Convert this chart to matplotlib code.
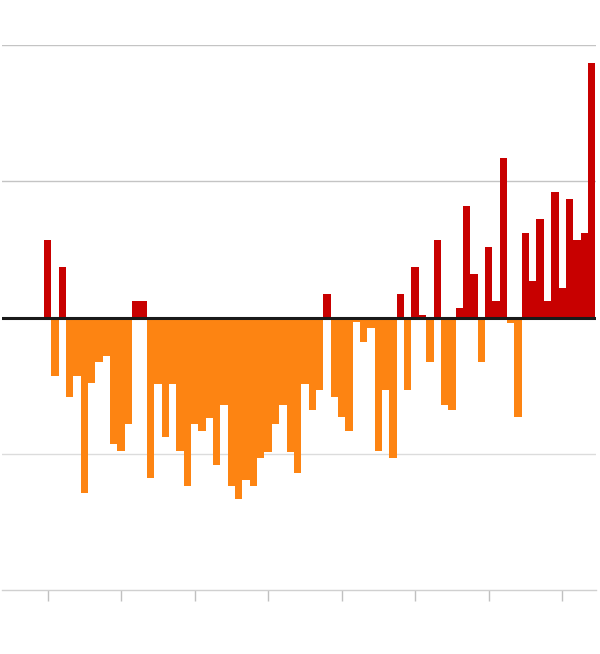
import matplotlib
matplotlib.use("Agg")
import matplotlib.pyplot as plt

# one bar per year, anomaly in grid units (gridlines every 1.0)
years = list(range(1940, 2015))
anomaly = [
    0.57, -0.43, 0.37, -0.58, -0.43, -1.29, -0.48, -0.33, -0.28, -0.93,
    -0.98, -0.78, 0.12, 0.12, -1.18, -0.49, -0.88, -0.49, -0.98, -1.24,
    -0.78, -0.83, -0.74, -1.08, -0.64, -1.24, -1.33, -1.19, -1.24, -1.03,
    -0.99, -0.78, -0.64, -0.99, -1.14, -0.49, -0.68, -0.53, 0.17, -0.58,
    -0.73, -0.83, -0.03, -0.18, -0.08, -0.98, -0.53, -1.03, 0.17, -0.53,
    0.37, 0.02, -0.33, 0.57, -0.64, -0.68, 0.07, 0.82, 0.32, -0.33,
    0.52, 0.12, 1.17, -0.04, -0.73, 0.62, 0.27, 0.72, 0.12, 0.92,
    0.22, 0.87, 0.57, 0.62, 1.87,
]
tick_years = [1940, 1950, 1960, 1970, 1980, 1990, 2000, 2010]
grid_levels = [2, 1, -1]

warm = "#c80000"
cool = "#fd8412"

fig = plt.figure(figsize=(6, 6.54), dpi=100)
ax = fig.add_axes([2 / 600, 64 / 654, 594 / 600, 545 / 654])

colors = [warm if v >= 0 else cool for v in anomaly]
ax.bar(years, anomaly, width=1.0, color=colors, linewidth=0, zorder=2)

for g in grid_levels:
    c = "#c4c4c4" if g > 0 else "#dcdcdc"
    ax.axhline(g, color=c, linewidth=1, zorder=1)
ax.axhline(0, color="#1a1a1a", linewidth=2.2, zorder=3)

ax.set_xlim(1933.8, 2014.6)
ax.set_ylim(-2, 2)

for s in ["top", "right", "left"]:
    ax.spines[s].set_visible(False)
ax.spines["bottom"].set_color("#d0d0d0")
ax.spines["bottom"].set_linewidth(1)

ax.set_yticks([])
ax.set_xticks(tick_years)
ax.set_xticklabels([])
ax.tick_params(axis="x", length=8, width=1, color="#c0c0c0", direction="out")

fig.savefig("out.png", dpi=100)
